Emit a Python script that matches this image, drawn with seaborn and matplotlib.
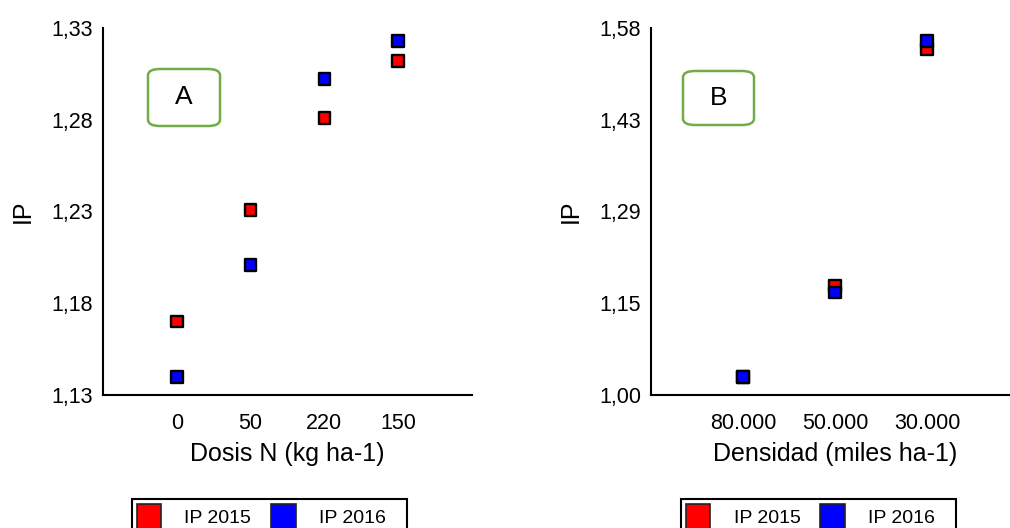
import matplotlib
matplotlib.use("Agg")
import matplotlib.pyplot as plt
from matplotlib.patches import Patch, FancyBboxPatch
import pandas as pd
import seaborn as sns

# Data
dosis = ['0', '50', '220', '150']
ip2015_dosis = [1.170, 1.231, 1.281, 1.312]
ip2016_dosis = [1.140, 1.201, 1.302, 1.323]

densidad = ['80.000', '50.000', '30.000']
ip2015_dens = [1.029, 1.173, 1.547]
ip2016_dens = [1.029, 1.162, 1.560]

series = ['IP 2015', 'IP 2016']
colors = {'IP 2015': '#FF0000', 'IP 2016': '#0000FF'}

df_a = pd.DataFrame({
    'x': dosis + dosis,
    'IP': ip2015_dosis + ip2016_dosis,
    'serie': [series[0]] * len(dosis) + [series[1]] * len(dosis),
})
df_b = pd.DataFrame({
    'x': densidad + densidad,
    'IP': ip2015_dens + ip2016_dens,
    'serie': [series[0]] * len(densidad) + [series[1]] * len(densidad),
})

sns.set_style('white')
plt.rcParams['font.family'] = ['Liberation Sans', 'DejaVu Sans']
plt.rcParams['text.color'] = 'black'
plt.rcParams['axes.labelcolor'] = 'black'

W, H = 1010, 528
fig = plt.figure(figsize=(W / 100, H / 100), dpi=100)


def px_axes(x0, y0, x1, y1):
    return fig.add_axes([x0 / W, 1 - y1 / H, (x1 - x0) / W, (y1 - y0) / H])


ax_a = px_axes(103, 28, 472, 395)
ax_b = px_axes(651, 28, 1019, 395)


def style(ax, df, cats, ylim, yticks, ylabels, xlabel):
    sns.scatterplot(data=df, x='x', y='IP', hue='serie', palette=colors,
                    marker='s', s=72, edgecolor='black', linewidth=1.7,
                    legend=False, ax=ax, zorder=3, clip_on=False)
    n = len(cats)
    ax.set_xlim(-1, n)
    ax.set_xticks(list(range(-1, n + 1)), [''] + cats + [''])
    ax.set_ylim(*ylim)
    ax.set_yticks(yticks, ylabels)
    ax.set_xlabel(xlabel, fontsize=18, labelpad=6)
    ax.set_ylabel('IP', fontsize=18, labelpad=12)
    for side in ['top', 'right']:
        ax.spines[side].set_visible(False)
    for side in ['left', 'bottom']:
        ax.spines[side].set_linewidth(1.5)
        ax.spines[side].set_color('black')
    ax.tick_params(axis='both', direction='out', length=6, width=1.5,
                   colors='black', labelsize=15.5)
    ax.tick_params(axis='y', pad=1)
    ax.tick_params(axis='x', pad=7)


style(ax_a, df_a, dosis, (1.13, 1.33),
      [1.13, 1.18, 1.23, 1.28, 1.33], ['1,13', '1,18', '1,23', '1,28', '1,33'],
      'Dosis N (kg ha-1)')
style(ax_b, df_b, densidad, (1.00, 1.58),
      [1.00, 1.145, 1.29, 1.435, 1.58], ['1,00', '1,15', '1,29', '1,43', '1,58'],
      'Densidad (miles ha-1)')

# Panel tags
for (x0, y0, x1, y1, tag) in [(148, 69, 220, 126, 'A'), (683, 71, 754, 125, 'B')]:
    box = FancyBboxPatch((x0 / W, 1 - y1 / H), (x1 - x0) / W, (y1 - y0) / H,
                         boxstyle='round,pad=0,rounding_size=0.012',
                         transform=fig.transFigure, facecolor='white',
                         edgecolor='#70AD47', linewidth=1.8)
    fig.patches.append(box)
    fig.text((x0 + x1) / 2 / W, 1 - (y0 + y1) / 2 / H, tag, fontsize=19,
             ha='center', va='center')

# Legends under each panel
handles = [Patch(facecolor=colors[s], edgecolor='#222222', linewidth=1.2) for s in series]
labels = [s + '   ' for s in series]
for x_left in [132, 681]:
    fig.legend(handles, labels, loc='upper left',
               bbox_to_anchor=(x_left / W, 1 - 499 / H), ncol=2,
               fontsize=14, frameon=True, fancybox=False, framealpha=1,
               edgecolor='black', borderaxespad=0, borderpad=0.25,
               handlelength=1.25, handleheight=1.7, handletextpad=1.2,
               columnspacing=0.2).get_frame().set_linewidth(1.5)

fig.savefig('out.png', dpi=100)
